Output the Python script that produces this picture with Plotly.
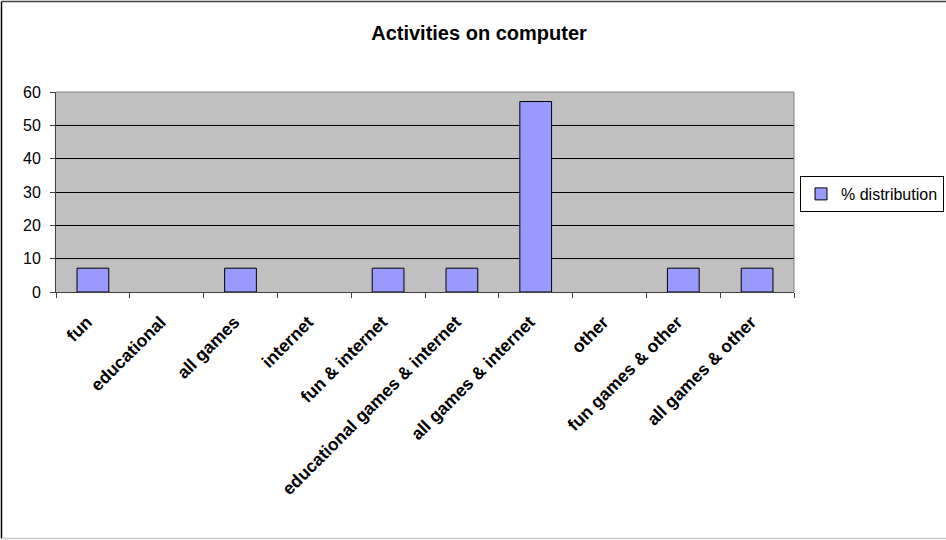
import plotly.graph_objects as go

# Share of respondents by main computer activity
categories = [
    "fun", "educational", "all games", "internet", "fun & internet",
    "educational games & internet", "all games & internet", "other",
    "fun games & other", "all games & other",
]
pct_distribution = [7.14, 0, 7.14, 0, 7.14, 7.14, 57.14, 0, 7.14, 7.14]
y_ticks = [0, 10, 20, 30, 40, 50, 60]

W, H = 946, 540
L, R, T, B = 56, 794, 92, 292  # plot area edges in pixels


def px_x(px):
    return (px - L) / (R - L)


def px_y(py):
    return (B - py) / (B - T)


# empty categories get no outline so no stray stroke sits on the axis
outline_widths = [1 if v > 0 else 0 for v in pct_distribution]

fig = go.Figure()
fig.add_trace(go.Bar(
    x=categories,
    y=pct_distribution,
    name="% distribution",
    marker=dict(color="#9999FF", line=dict(color="#000000", width=outline_widths)),
))

font_family = "Liberation Sans, Arial, sans-serif"

fig.update_layout(
    width=W, height=H,
    margin=dict(l=L, r=W - R, t=T, b=H - B, pad=0, autoexpand=False),
    paper_bgcolor="white",
    plot_bgcolor="#C0C0C0",
    bargap=0.57,
    font=dict(family=font_family, size=16, color="black"),
    title=dict(
        text="<b>Activities on computer</b>",
        x=479 / W, xanchor="center",
        y=1 - 33 / H, yanchor="middle",
        font=dict(size=20, family=font_family, color="black"),
    ),
    showlegend=True,
    legend=dict(
        xref="container", yref="container",
        x=800 / W, xanchor="left",
        y=1 - 176 / H, yanchor="top",
        bgcolor="white", bordercolor="black", borderwidth=1,
        font=dict(size=16, family=font_family),
        itemwidth=30,
    ),
    xaxis=dict(
        type="category",
        tickson="boundaries",
        ticks="outside", ticklen=5, tickcolor="#404040",
        tickangle=-45,
        ticklabelstandoff=12,
        ticklabelshift=-6,
        tickfont=dict(size=17.5, family=font_family, color="black"),
        showline=True, linecolor="#404040", linewidth=1,
        showgrid=False,
    ),
    yaxis=dict(
        range=[0, 60],
        tickvals=y_ticks,
        ticks="outside", ticklen=5, tickcolor="#404040",
        ticklabelstandoff=6,
        tickfont=dict(size=16, family=font_family, color="black"),
        showline=True, linecolor="#404040", linewidth=1,
        showgrid=True, gridcolor="black", gridwidth=1,
        zeroline=False,
    ),
)

# bold category labels
fig.update_xaxes(ticktext=[f"<b>{c}</b>" for c in categories], tickvals=categories)

# plot area border (top and right edges)
fig.add_shape(type="line", xref="paper", yref="paper",
              x0=0, x1=1, y0=1, y1=1, line=dict(color="#808080", width=1))
fig.add_shape(type="line", xref="paper", yref="paper",
              x0=1, x1=1, y0=0, y1=1, line=dict(color="#808080", width=1))

# chart area frame
fig.add_shape(type="line", xref="paper", yref="paper",
              x0=px_x(1.5), x1=px_x(1.5), y0=px_y(538.5), y1=px_y(1.5),
              line=dict(color="black", width=1.5))
fig.add_shape(type="line", xref="paper", yref="paper",
              x0=px_x(1.5), x1=px_x(950), y0=px_y(1.5), y1=px_y(1.5),
              line=dict(color="#404040", width=1.5))
fig.add_shape(type="line", xref="paper", yref="paper",
              x0=px_x(1.5), x1=px_x(950), y0=px_y(538.5), y1=px_y(538.5),
              line=dict(color="#C8C8C8", width=1.5))

fig.write_html("out.html")
